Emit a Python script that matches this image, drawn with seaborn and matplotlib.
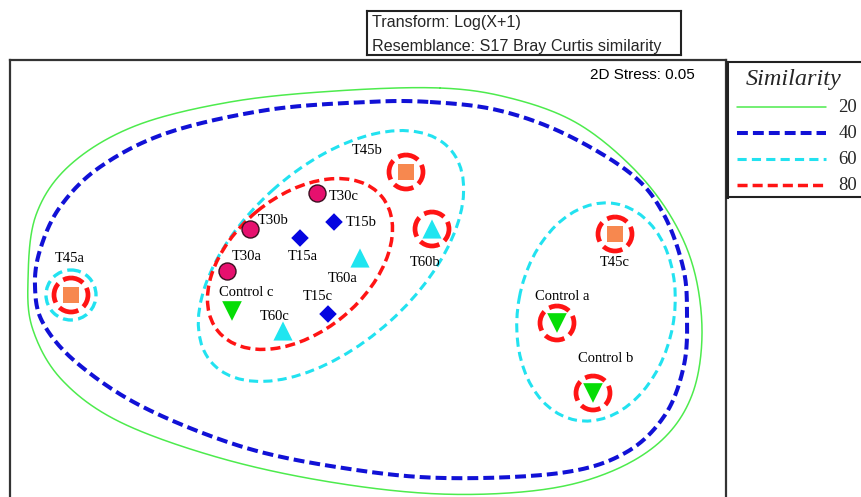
import numpy as np
import pandas as pd
import matplotlib
matplotlib.use("Agg")
import matplotlib.pyplot as plt
import seaborn as sns
from matplotlib.patches import Ellipse, Circle

# ---------------- data (MDS ordination, screen-like units) -------------
sample_names = ["T45a", "T45b", "T45c", "T30a", "T30b", "T30c", "T15a", "T15b", "T15c",
                "T60a", "T60b", "T60c", "Control a", "Control b", "Control c"]
groups = ["T45"] * 3 + ["T30"] * 3 + ["T15"] * 3 + ["T60"] * 3 + ["Control"] * 3
mds_x = [71, 406, 615, 227, 250, 317, 300, 334, 328, 360, 432, 283, 557, 593, 232]
mds_y = [295, 172, 234, 271, 229, 193, 238, 222, 314, 258, 229, 331, 323, 393, 311]

# singletons ringed at a similarity level
ring80_samples = ["T45a", "T45b", "T60b", "T45c", "Control a", "Control b"]
ring60_samples = ["T45a"]

# 20 % and 40 % similarity contours (outline anchors)
contour20_x = [440, 510, 575, 630, 670, 694, 702, 692, 662, 610, 540, 440,
               330, 220, 120, 62, 33, 28, 36, 70, 135, 230, 335]
contour20_y = [88, 98, 122, 165, 215, 270, 335, 395, 440, 472, 490, 494,
               482, 458, 422, 380, 330, 280, 215, 165, 126, 102, 91]
contour40_x = [430, 497, 563, 630, 663, 683, 687, 684, 665, 625, 560, 443, 343,
               243, 143, 77, 43, 35, 40, 60, 100, 167, 267, 367]
contour40_y = [102, 110, 133, 173, 213, 267, 313, 365, 415, 453, 473, 478, 468,
               447, 407, 363, 323, 287, 250, 207, 167, 133, 110, 102]

# 60 % and 80 % similarity cluster outlines (ellipses: centre x, centre y, width, height, angle)
cluster60_cx = [331, 596]
cluster60_cy = [256, 312]
cluster60_w = [320, 220]
cluster60_h = [176, 156]
cluster60_angle = [-42, -79.5]
cluster80_cx = [300]
cluster80_cy = [264]
cluster80_w = [212]
cluster80_h = [136]
cluster80_angle = [-39.5]

legend_levels = ["20", "40", "60", "80"]
transform_text = "Transform: Log(X+1)"
resemblance_text = "Resemblance: S17 Bray Curtis similarity"
stress_text = "2D Stress: 0.05"

# ---------------- styles -------------
group_style = {
    "T45": dict(marker="s", color="#F7884F", s=140, edgecolor="none", lw=0),
    "T30": dict(marker="o", color="#E6106E", s=150, edgecolor="#3a1020", lw=1.0),
    "T15": dict(marker="D", color="#0505E0", s=80, edgecolor="none", lw=0),
    "T60": dict(marker="^", color="#1FE5F0", s=190, edgecolor="none", lw=0),
    "Control": dict(marker="v", color="#06DD06", s=200, edgecolor="none", lw=0),
}
label_offset = {
    "T45a": (-1, -37), "T45b": (-39, -22), "T45c": (0, 29),
    "T30a": (20, -14), "T30b": (23, -9), "T30c": (27, 3),
    "T15a": (3, 19), "T15b": (27, 0), "T15c": (-10, -17),
    "T60a": (-17, 20), "T60b": (-7, 34), "T60c": (-8, -15),
    "Control a": (5, -27), "Control b": (13, -35), "Control c": (14, -18),
}
C20, C40, C60, C80 = "#4DEB4D", "#1111D6", "#22E2F0", "#FF1414"
level_style = {
    "20": dict(color=C20, lw=1.1, ls="-"),
    "40": dict(color=C40, lw=2.9, ls=(0, (2.7, 1.25))),
    "60": dict(color=C60, lw=2.2, ls=(0, (3.0, 1.7))),
    "80": dict(color=C80, lw=2.5, ls=(0, (2.9, 1.45))),
}
SERIF = ["Liberation Serif", "DejaVu Serif"]

W, H = 861, 497
sns.set_theme(style="white")
plt.rcParams["font.family"] = ["Liberation Sans", "DejaVu Sans"]

fig = plt.figure(figsize=(W / 100, H / 100), dpi=100)
fig.patch.set_facecolor("white")


def fig_rect(x0, y0, x1, y1):
    return [x0 / W, 1 - y1 / H, (x1 - x0) / W, (y1 - y0) / H]


def closed_spline(xs, ys, n=24):
    P = np.column_stack([xs, ys]).astype(float)
    m = len(P)
    t = np.linspace(0, 1, n, endpoint=False)[:, None]
    segs = []
    for i in range(m):
        p0, p1, p2, p3 = P[(i - 1) % m], P[i], P[(i + 1) % m], P[(i + 2) % m]
        segs.append(0.5 * (2 * p1 + (-p0 + p2) * t + (2 * p0 - 5 * p1 + 4 * p2 - p3) * t ** 2
                           + (-p0 + 3 * p1 - 3 * p2 + p3) * t ** 3))
    out = np.vstack(segs + [segs[0][:1]])
    return out[:, 0], out[:, 1]


# ---------------- main ordination panel -------------
ax = fig.add_axes(fig_rect(10, 60, 726, H))
ax.set_xlim(10, 726)
ax.set_ylim(H, 60)
ax.set_xticks([])
ax.set_yticks([])
for side, sp in ax.spines.items():
    sp.set_visible(side != "bottom")
    sp.set_color("#333333")
    sp.set_linewidth(1.6)

# contours 20 / 40
for lev, cx, cy in (("20", contour20_x, contour20_y), ("40", contour40_x, contour40_y)):
    sx, sy = closed_spline(cx, cy)
    st = level_style[lev]
    ax.plot(sx, sy, color=st["color"], lw=st["lw"], ls=st["ls"], zorder=2)

# 60 / 80 cluster ellipses
for lev, cxs, cys, ws, hs, angs in (("60", cluster60_cx, cluster60_cy, cluster60_w, cluster60_h, cluster60_angle),
                                     ("80", cluster80_cx, cluster80_cy, cluster80_w, cluster80_h, cluster80_angle)):
    st = level_style[lev]
    for cx, cy, w, h, a in zip(cxs, cys, ws, hs, angs):
        ax.add_patch(Ellipse((cx, cy), w, h, angle=a, fill=False, edgecolor=st["color"],
                             lw=st["lw"], ls=st["ls"], zorder=3))

df = pd.DataFrame({"x": mds_x, "y": mds_y, "group": groups, "sample": sample_names})

# rings around singletons
for name in ring60_samples:
    r = df[df["sample"] == name].iloc[0]
    ax.add_patch(Circle((r.x, r.y), 25, fill=False, edgecolor=C60, lw=2.4,
                        ls=(0, (3.0, 1.6)), zorder=3))
for name in ring80_samples:
    r = df[df["sample"] == name].iloc[0]
    ax.add_patch(Circle((r.x, r.y), 17, fill=False, edgecolor=C80, lw=3.4,
                        ls=(1.5, (4.3, 1.3)), zorder=3))

# sample points
for g, st in group_style.items():
    sub = df[df["group"] == g]
    sns.scatterplot(data=sub, x="x", y="y", marker=st["marker"], color=st["color"], s=st["s"],
                    edgecolor=st["edgecolor"], linewidth=st["lw"], ax=ax, legend=False, zorder=5)
ax.set_xlabel("")
ax.set_ylabel("")

for _, r in df.iterrows():
    dx, dy = label_offset[r["sample"]]
    ax.text(r.x + dx, r.y + dy, r["sample"], ha="center", va="center",
            fontsize=10.5, family=SERIF, color="black", zorder=6)

ax.text(695, 75, stress_text, ha="right", va="center", fontsize=11, color="black")

# ---------------- top info box -------------
bx = fig.add_axes(fig_rect(367, 11, 681, 55))
bx.set_xlim(367, 681)
bx.set_ylim(55, 11)
bx.set_xticks([])
bx.set_yticks([])
bx.set_facecolor("white")
for sp in bx.spines.values():
    sp.set_color("#222222")
    sp.set_linewidth(1.5)
bx.text(372, 23, transform_text, ha="left", va="center", fontsize=11.6)
bx.text(372, 46, resemblance_text, ha="left", va="center", fontsize=11.6)

# ---------------- similarity legend -------------
lx = fig.add_axes(fig_rect(727, 62, 875, 197))
lx.set_xlim(727, 875)
lx.set_ylim(197, 62)
lx.set_xticks([])
lx.set_yticks([])
lx.patch.set_alpha(0)
for side, sp in lx.spines.items():
    sp.set_visible(side != "right")
    sp.set_color("#222222")
    sp.set_linewidth(1.5)
lx.spines["left"].set_linewidth(2.2)
lx.text(794, 79, "Similarity", ha="center", va="center", fontsize=17.5, style="italic",
        family=SERIF)
for i, lev in enumerate(legend_levels):
    yy = 107 + i * 26
    st = level_style[lev]
    lx.plot([737, 826], [yy, yy], color=st["color"], lw=st["lw"], ls=st["ls"])
    lx.text(857, yy, lev, ha="right", va="center", fontsize=13.5, family=SERIF)

fig.savefig("out.png", dpi=100, facecolor="white")
